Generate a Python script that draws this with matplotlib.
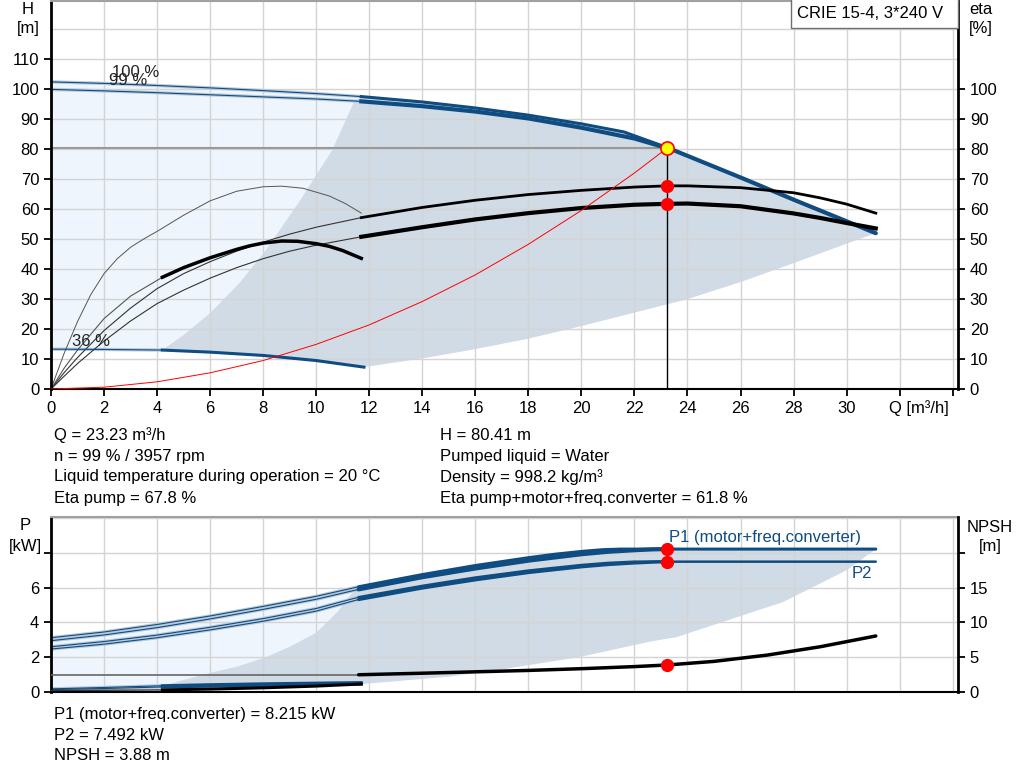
import numpy as np
import matplotlib.pyplot as plt
from matplotlib.patches import Rectangle

plt.rcParams['font.family'] = ['Liberation Sans', 'DejaVu Sans']
plt.rcParams['font.size'] = 12

# ---- Q-H curves (top chart) ----
q_h100 = [0, 2, 4, 6, 8, 10, 11.7, 14, 16, 18, 20, 21.6, 23.23, 26, 28, 31.1]
h_100 = [102.5, 102.0, 101.3, 100.5, 99.6, 98.6, 97.6, 95.8, 93.8, 91.4, 88.5, 85.8, 80.6, 70.6, 63.2, 52.0]
q_h99 = [0, 2, 4, 6, 8, 10, 11.7, 14, 16, 18, 20, 22, 23.23]
h_99 = [100.0, 99.5, 98.9, 98.2, 97.5, 96.8, 96.0, 94.4, 92.6, 90.3, 87.2, 83.6, 80.41]
q_h36 = [0, 2, 4.2, 6, 8, 10, 11.8]
h_36 = [13.3, 13.2, 13.0, 12.3, 11.2, 9.5, 7.3]

# ---- efficiency curves ----
q_eta = [0, 0.5, 1, 2, 3, 4, 5, 6, 7, 8, 9, 10, 11.7, 14, 16, 18, 20, 22, 23.23, 24, 26, 28, 29, 30, 31.1]
eta_pump = [0, 5.5, 10.5, 19.5, 27, 33.5, 38.5, 42.5, 46, 49, 51.7, 54, 57.2, 60.6, 63.0, 64.9, 66.3,
            67.4, 67.8, 67.8, 67.2, 65.5, 63.8, 61.7, 58.7]
eta_tot = [0, 4.3, 8.5, 16, 22.7, 28.5, 33, 37, 40.5, 43.5, 46, 48, 50.8, 54.0, 56.6, 58.7, 60.4,
           61.5, 61.8, 61.9, 61.0, 58.6, 57.1, 55.4, 53.6]
q_eta36 = [0, 0.5, 1, 1.5, 2, 2.5, 3, 3.5, 4, 5, 6, 7, 8, 8.7, 9.5, 10.5, 11.1, 11.7]
eta_pump36 = [0, 12, 22.5, 31.5, 38.5, 43.5, 47.3, 50.1, 52.6, 58.0, 62.8, 66.0, 67.5, 67.7, 67.0,
              64.4, 61.9, 58.7]
q_etat36 = [0, 0.5, 1, 2, 3, 4.2, 5, 6, 7, 7.5, 8, 8.7, 9.3, 10, 10.5, 11, 11.7]
eta_tot36 = [0, 7, 13, 23.5, 31, 37.3, 40.5, 43.8, 46.6, 47.8, 48.7, 49.4, 49.3, 48.5, 47.6, 46.2, 43.6]

# ---- system curve ----
q_sys = [0, 2, 4, 6, 8, 10, 12, 14, 16, 18, 20, 22, 23.23]
h_sys = [0, 0.6, 2.4, 5.4, 9.5, 14.9, 21.4, 29.2, 38.1, 48.3, 59.6, 72.1, 80.41]

# ---- operating area (top) ----
q_area_left = [4.2, 5.0, 6.0, 7.1, 8.1, 9.4, 10.6, 11.4, 11.7]
h_area_left = [13.0, 18.0, 25.3, 35.3, 46.3, 63.0, 79.7, 95.3, 97.6]
q_area_low = [31.1, 30, 28, 26, 24, 22, 20, 18, 16, 14, 11.8]
h_area_low = [52, 48.5, 42, 35.7, 30, 25.5, 21, 16.8, 13.3, 10.2, 7.3]

# ---- power curves (bottom chart) ----
q_p1_100 = [0, 2, 4, 6, 8, 10, 11.6, 14, 16, 18, 19, 20, 20.8, 21.5, 31.1]
p1_100 = [3.12, 3.45, 3.88, 4.37, 4.92, 5.5, 6.05, 6.75, 7.27, 7.72, 7.92, 8.08, 8.18, 8.215, 8.215]
q_p1_99 = [0, 2, 4, 6, 8, 10, 11.6, 14, 16, 18, 20, 21, 22, 22.7, 23.23]
p1_99 = [2.95, 3.28, 3.7, 4.2, 4.75, 5.33, 5.9, 6.6, 7.1, 7.55, 7.92, 8.06, 8.15, 8.2, 8.215]
q_p2_100 = [0, 2, 4, 6, 8, 10, 11.6, 14, 16, 18, 20, 21, 22, 31.1]
p2_100 = [2.6, 2.9, 3.27, 3.72, 4.22, 4.8, 5.45, 6.1, 6.58, 6.98, 7.3, 7.42, 7.492, 7.492]
q_p2_99 = [0, 2, 4, 6, 8, 10, 11.6, 14, 16, 18, 20, 21, 22, 22.7, 23.23]
p2_99 = [2.47, 2.75, 3.12, 3.57, 4.07, 4.65, 5.32, 5.98, 6.45, 6.87, 7.2, 7.33, 7.42, 7.47, 7.492]
q_p36 = [0, 2, 4.2, 6, 8, 10, 11.7]
p1_36 = [0.18, 0.26, 0.36, 0.42, 0.47, 0.51, 0.54]
p2_36 = [0.14, 0.2, 0.29, 0.34, 0.38, 0.42, 0.45]
npsh_36 = [0.22, 0.25, 0.3, 0.42, 0.6, 0.85, 1.15]
q_npsh = [0, 11.6, 14, 16, 18, 20, 22, 23.23, 25, 27, 29, 31.1]
npsh = [2.48, 2.48, 2.7, 2.9, 3.1, 3.35, 3.65, 3.88, 4.4, 5.3, 6.5, 8.05]

# ---- operating area (bottom) ----
q_parea_left = [4.2, 6, 7, 8.1, 9, 10, 10.8, 11.25, 11.6]
p_parea_left = [0.36, 1.1, 1.45, 2.0, 2.6, 3.4, 4.6, 5.5, 6.05]
q_parea_low = [31.1, 30, 27.6, 23.6, 22.6, 19.9, 17, 15, 13, 11.7]
p_parea_low = [8.215, 7.0, 5.17, 3.16, 2.9, 2.0, 1.3, 0.88, 0.62, 0.45]

# ---- duty point ----
q_op = 23.23
h_op = 80.41
eta_p_op = 67.8
eta_t_op = 61.8
p1_op = 8.215
p2_op = 7.492
npsh_op = 3.88

info_left = ['Q = 23.23 m³/h', 'n = 99 % / 3957 rpm',
             'Liquid temperature during operation = 20 °C', 'Eta pump = 67.8 %']
info_right = ['H = 80.41 m', 'Pumped liquid = Water', 'Density = 998.2 kg/m³',
              'Eta pump+motor+freq.converter = 61.8 %']
info_bottom = ['P1 (motor+freq.converter) = 8.215 kW', 'P2 = 7.492 kW', 'NPSH = 3.88 m']

BLUE = '#0f4c81'
HALO = '#b9c9da'
LIGHT = '#eef5fc'
AREA = '#d0dbe6'
GRID = '#d4d4d4'


def part(q, v, lo, hi):
    q = np.asarray(q, float)
    v = np.asarray(v, float)
    m = (q >= lo) & (q <= hi)
    return q[m], v[m]


def thin_blue(ax, q, v):
    ax.plot(q, v, color=HALO, lw=2.4, solid_capstyle='butt', zorder=2)
    ax.plot(q, v, color=BLUE, lw=0.8, zorder=2.1)


def style(ax, axr):
    ax.grid(True, color=GRID, lw=1)
    ax.spines['left'].set_linewidth(2)
    ax.spines['bottom'].set_linewidth(1.5)
    ax.spines['top'].set_color('#a0a0a0')
    ax.spines['top'].set_linewidth(1.5)
    ax.spines['right'].set_visible(False)
    axr.spines['right'].set_linewidth(2)
    for s in ['left', 'top', 'bottom']:
        axr.spines[s].set_visible(False)
    ax.tick_params(direction='out', length=5, width=1.3, labelsize=12)
    axr.tick_params(direction='out', length=5, width=1.3, labelsize=12)


fig = plt.figure(figsize=(10.24, 7.81), dpi=100)
W, H = 1024.0, 781.0

# ================= top chart =================
ax1 = fig.add_axes([51 / W, 1 - 389 / H, 907 / W, 388 / H])
ax1.set_xlim(0, 34.2)
ax1.set_ylim(0, 129.5)

# light region (outside operating area)
qa, ha = part(q_h100, h_100, 0, 11.7)
poly_q = list(qa) + [11.8] + list(q_h36[::-1])
poly_h = list(ha) + [7.3] + list(h_36[::-1])
ax1.fill(poly_q, poly_h, color=LIGHT, lw=0, zorder=1)

# operating area
qt, ht = part(q_h100, h_100, 11.7, 31.1)
q36b, h36b = part(q_h36, h_36, 4.2, 11.8)
area_q = q_area_left + list(qt) + q_area_low + list(q36b[::-1])
area_h = h_area_left + list(ht) + h_area_low + list(h36b[::-1])
ax1.fill(area_q, area_h, color=AREA, lw=0, zorder=1)

# Q-H curves
thin_blue(ax1, *part(q_h100, h_100, 0, 11.7))
thin_blue(ax1, *part(q_h99, h_99, 0, 11.7))
ax1.plot(*part(q_h100, h_100, 11.7, 23.23), color=BLUE, lw=2.2, zorder=3)
ax1.plot(*part(q_h99, h_99, 11.7, 23.23), color=BLUE, lw=3, zorder=3)
ax1.plot(*part(q_h100, h_100, 23.23, 31.1), color=BLUE, lw=3, zorder=3,
         solid_capstyle='round')
thin_blue(ax1, *part(q_h36, h_36, 0, 4.2))
ax1.plot(*part(q_h36, h_36, 4.2, 11.8), color=BLUE, lw=2.2, zorder=3)

# efficiency curves
ax1.plot(*part(q_eta, eta_pump, 0, 11.7), color='#333333', lw=0.8, zorder=2)
ax1.plot(*part(q_eta, eta_pump, 11.7, 31.1), color='black', lw=2, zorder=3)
ax1.plot(*part(q_eta, eta_tot, 0, 11.7), color='#333333', lw=0.8, zorder=2)
ax1.plot(*part(q_eta, eta_tot, 11.7, 31.1), color='black', lw=3, zorder=3)
ax1.plot(q_eta36, eta_pump36, color='#555555', lw=0.7, zorder=2)
ax1.plot(*part(q_etat36, eta_tot36, 0, 4.2), color='#555555', lw=0.8, zorder=2)
ax1.plot(*part(q_etat36, eta_tot36, 4.2, 11.7), color='black', lw=2.5, zorder=3)

# system curve and duty point
ax1.plot(q_sys, h_sys, color='red', lw=0.7, zorder=3)
ax1.plot([0, q_op], [h_op, h_op], color='#999999', lw=1.5, zorder=2)
ax1.plot([q_op, q_op], [0, h_op], color='black', lw=1, zorder=3)
ax1.plot([q_op, q_op], [eta_p_op, eta_t_op], 'o', color='red', ms=8.5, zorder=5)
ax1.plot([q_op], [h_op], 'o', mfc='yellow', mec='red', mew=1.2, ms=9.5, zorder=5)

ax1.text(2.3, 104.2, '100 %', color='#222222', zorder=4)
ax1.text(2.2, 101.3, '99 %', color='#222222', zorder=4)
ax1.text(0.8, 14.2, '36 %', color='#222222', zorder=4)

ax1r = ax1.twinx()
ax1r.set_ylim(0, 129.5)
ax1r.set_yticks(range(0, 101, 10))

xt = np.arange(0, 35, 2)
ax1.set_xticks(xt)
ax1.set_xticklabels([str(int(v)) if v <= 30 else '' for v in xt])
ax1.set_yticks(range(0, 121, 10))
ax1.set_yticklabels([str(v) if v <= 110 else '' for v in range(0, 121, 10)])
style(ax1, ax1r)
ax1.yaxis.get_major_ticks()[-1].tick1line.set_visible(False)

# ================= bottom chart =================
ax2 = fig.add_axes([51 / W, 1 - 692 / H, 907 / W, 175 / H])
ax2.set_xlim(0, 34.2)
ax2.set_ylim(0, 10.06)

qa, pa = part(q_p1_100, p1_100, 0, 11.6)
poly_q = list(qa) + list(q_p36[::-1])
poly_p = list(pa) + list(p1_36[::-1])
ax2.fill(poly_q, poly_p, color=LIGHT, lw=0, zorder=1)

qt, pt = part(q_p1_100, p1_100, 11.6, 31.1)
q36b, p36b = part(q_p36, p1_36, 4.2, 11.7)
area_q = q_parea_left + list(qt) + q_parea_low + list(q36b[::-1])
area_p = p_parea_left + list(pt) + p_parea_low + list(p36b[::-1])
ax2.fill(area_q, area_p, color=AREA, lw=0, zorder=1)

for qq, pp, lw in [(q_p1_100, p1_100, 2.2), (q_p1_99, p1_99, 3),
                   (q_p2_100, p2_100, 1.8), (q_p2_99, p2_99, 2.4)]:
    thin_blue(ax2, *part(qq, pp, 0, 11.6))
    ax2.plot(*part(qq, pp, 11.6, 31.1), color=BLUE, lw=lw, zorder=3,
             solid_capstyle='round')
for pp in [p1_36, p2_36]:
    thin_blue(ax2, *part(q_p36, pp, 0, 4.2))
    ax2.plot(*part(q_p36, pp, 4.2, 11.7), color=BLUE, lw=2.2, zorder=3)

ax2.plot([q_op, q_op], [p1_op, p2_op], 'o', color='red', ms=8.5, zorder=5)
ax2.text(23.3, 8.45, 'P1 (motor+freq.converter)', color=BLUE,
         va='bottom', zorder=6)
ax2.text(30.95, 7.25, 'P2', color=BLUE, ha='right', va='top', zorder=6)

ax2r = ax2.twinx()
ax2r.set_ylim(0, 25.15)
ax2r.plot(*part(q_npsh, npsh, 0, 11.6), color='#666666', lw=1.2, zorder=2)
ax2r.plot(*part(q_npsh, npsh, 11.6, 31.1), color='black', lw=2.5, zorder=3,
          solid_capstyle='round')
ax2r.plot(*part(q_p36, npsh_36, 0, 4.2), color='#333333', lw=1, zorder=2)
ax2r.plot(*part(q_p36, npsh_36, 4.2, 11.7), color='black', lw=2.2, zorder=3)
ax2r.plot([q_op], [npsh_op], 'o', color='red', ms=8.5, zorder=5)
ax2r.set_yticks([0, 5, 10, 15, 20])
ax2r.set_yticklabels(['0', '5', '10', '15', ''])

ax2.set_xticks(xt)
ax2.set_xticklabels([])
ax2.set_yticks([0, 2, 4, 6, 8, 10])
ax2.set_yticklabels(['0', '2', '4', '6', '', ''])
style(ax2, ax2r)
ax2.tick_params(axis='x', length=0)
ax2.yaxis.get_major_ticks()[-1].tick1line.set_visible(False)

# ================= texts =================
fig.text(28 / W, 1 - 10 / H, 'H', ha='center', va='center')
fig.text(28 / W, 1 - 29 / H, '[m]', ha='center', va='center')
fig.text(981 / W, 1 - 10 / H, 'eta', ha='center', va='center')
fig.text(981 / W, 1 - 29 / H, '[%]', ha='center', va='center')
fig.text(25 / W, 1 - 526 / H, 'P', ha='center', va='center')
fig.text(25 / W, 1 - 547 / H, '[kW]', ha='center', va='center')
fig.text(990 / W, 1 - 527 / H, 'NPSH', ha='center', va='center')
fig.text(990 / W, 1 - 547 / H, '[m]', ha='center', va='center')
fig.text(889 / W, 1 - 408 / H, 'Q [m³/h]', ha='left', va='center')

fig.patches.append(Rectangle((791 / W, 1 - 28 / H), 167 / W, 30 / H,
                             transform=fig.transFigure, fill=True, fc='white',
                             ec='#707070', lw=1, zorder=10))
fig.text(797 / W, 1 - 14 / H, 'CRIE 15-4, 3*240 V', ha='left', va='center',
         zorder=11)

for i, s in enumerate(info_left):
    fig.text(54 / W, 1 - (435 + 21 * i) / H, s, ha='left', va='center')
for i, s in enumerate(info_right):
    fig.text(440 / W, 1 - (435 + 21 * i) / H, s, ha='left', va='center')
for i, s in enumerate(info_bottom):
    fig.text(54 / W, 1 - (714 + 21 * i) / H, s, ha='left', va='center')

fig.savefig('out.png', dpi=100)
